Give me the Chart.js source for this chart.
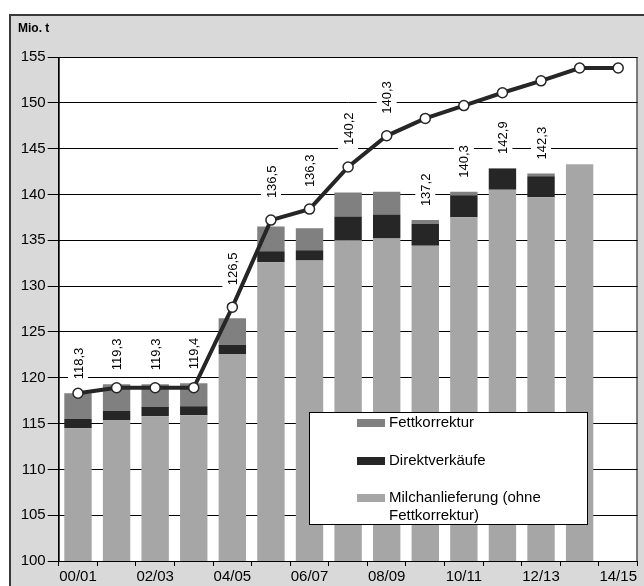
<!DOCTYPE html>
<html>
<head>
<meta charset="utf-8">
<script src="https://cdn.jsdelivr.net/npm/chart.js@4.4.1/dist/chart.umd.min.js"></script>
<style>
  body { margin: 0; background: #fff; }
</style>
</head>
<body>
<canvas id="milkChart" width="644" height="586"></canvas>
<script>
// Wirtschaftsjahre
let years = ['00/01','01/02','02/03','03/04','04/05','05/06','06/07','07/08','08/09','09/10','10/11','11/12','12/13','13/14','14/15']

// Mio. t
let milch   = [114.5, 115.4, 115.8, 115.9, 122.6, 132.6, 132.8, 135.0, 135.2, 134.4, 137.5, 140.5, 139.7, 143.3, null]
let direkt  = [1.0, 1.0, 1.0, 1.0, 1.0, 1.2, 1.1, 2.6, 2.6, 2.4, 2.4, 2.3, 2.3, 0, null]
let fett    = [2.8, 2.9, 2.5, 2.5, 2.9, 2.7, 2.4, 2.6, 2.5, 0.4, 0.4, 0.1, 0.3, 0, null]
let quote   = [118.3, 118.9, 118.9, 118.9, 127.7, 137.2, 138.4, 143.0, 146.4, 148.3, 149.7, 151.1, 152.4, 153.8, 153.8]
let summen  = [118.3, 119.3, 119.3, 119.4, 126.5, 136.5, 136.3, 140.2, 140.3, 137.2, 140.3, 142.9, 142.3, null, null]

let yTicks = { min: 100, max: 155, step: 5 }

const FONT = "'Liberation Sans', Arial, sans-serif"

// grey frame + white plot area behind everything
const framePlugin = {
    id: 'frame',
    beforeDraw(chart) {
        const ctx = chart.ctx
        const a = chart.chartArea
        ctx.save()
        ctx.fillStyle = '#d9d9d9'
        ctx.fillRect(10, 15, 650, 600)
        ctx.strokeStyle = '#3a3a3a'
        ctx.lineWidth = 2
        ctx.strokeRect(10, 15, 650, 600)
        ctx.fillStyle = '#fff'
        ctx.fillRect(a.left, a.top, a.right - a.left, a.bottom - a.top)
        ctx.fillStyle = '#000'
        ctx.font = 'bold 12px ' + FONT
        ctx.textBaseline = 'middle'
        ctx.fillText('Mio. t', 18, 29)
        ctx.restore()
    },
    afterDraw(chart) {
        const ctx = chart.ctx
        const a = chart.chartArea
        ctx.save()
        ctx.strokeStyle = '#000'
        ctx.lineWidth = 1
        ctx.strokeRect(a.left + 0.5, a.top + 0.5, a.right - a.left - 1, a.bottom - a.top)
        ctx.restore()
    }
}

// rotated sum labels above the bars (drawn over the grid, under the line)
const sumLabels = {
    id: 'sumLabels',
    beforeDatasetsDraw(chart) {
        const ctx = chart.ctx
        const x = chart.scales.x
        const y = chart.scales.y
        ctx.save()
        ctx.font = '13px ' + FONT
        summen.forEach((v, i) => {
            if (v == null) return
            let px = x.getPixelForValue(i)
            let anchor = y.getPixelForValue(v) - 14
            let diff = quote[i] - v
            if (diff > 0.3 && diff < 7) anchor = y.getPixelForValue(quote[i]) - 22
            let txt = v.toFixed(1).replace('.', ',')
            let w = ctx.measureText(txt).width
            ctx.fillStyle = '#fff'
            ctx.fillRect(px - 10, anchor - w - 4, 20, w + 8)
            ctx.translate(px, anchor)
            ctx.rotate(-Math.PI / 2)
            ctx.fillStyle = '#000'
            ctx.textAlign = 'left'
            ctx.textBaseline = 'middle'
            ctx.fillText(txt, 0, 1)
            ctx.setTransform(1, 0, 0, 1, 0, 0)
        })
        ctx.restore()
    }
}

// legend box inside the plot
const legendBox = {
    id: 'legendBox',
    afterDraw(chart) {
        const ctx = chart.ctx
        ctx.save()
        ctx.fillStyle = '#fff'
        ctx.fillRect(309, 412, 278, 112)
        ctx.strokeStyle = '#000'
        ctx.lineWidth = 1
        ctx.strokeRect(309.5, 412.5, 278, 112)
        ctx.font = '15px ' + FONT
        ctx.textBaseline = 'middle'
        const items = [chart.data.datasets[2], chart.data.datasets[1], chart.data.datasets[0]]
        const rows = [423, 461, 498]
        items.forEach((ds, k) => {
            ctx.fillStyle = ds.backgroundColor
            ctx.fillRect(357, rows[k] - 4, 28, 8)
            ctx.fillStyle = '#000'
            let lines = Array.isArray(ds.label) ? ds.label : [ds.label]
            lines.forEach((t, j) => ctx.fillText(t, 389, rows[k] + j * 18))
        })
        ctx.restore()
    }
}

let ctx = document.getElementById('milkChart').getContext('2d')
let milkChart = new Chart(ctx, {
    type: 'bar',
    data: {
        labels: years,
        datasets: [
            { label: ['Milchanlieferung (ohne', 'Fettkorrektur)'], data: milch, backgroundColor: '#a6a6a6', order: 1 },
            { label: 'Direktverkäufe', data: direkt, backgroundColor: '#262626', order: 1 },
            { label: 'Fettkorrektur', data: fett, backgroundColor: '#808080', order: 1 },
            {
                type: 'line',
                label: 'Quote',
                data: quote,
                stack: 'quote',
                order: 0,
                borderColor: '#262626',
                borderWidth: 4,
                pointRadius: 5,
                pointBackgroundColor: '#fff',
                pointBorderColor: '#262626',
                pointBorderWidth: 1.5,
                tension: 0
            }
        ]
    },
    options: {
        responsive: false,
        animation: false,
        layout: { padding: { left: 10, top: 57, right: 5, bottom: 0 } },
        datasets: { bar: { categoryPercentage: 1, barPercentage: 0.71 } },
        plugins: { legend: { display: false }, tooltip: { enabled: false } },
        scales: {
            x: {
                stacked: true,
                afterFit: (s) => { s.height = 25 },
                grid: { offset: true, drawOnChartArea: false, color: '#000', tickLength: 5 },
                border: { color: '#000' },
                ticks: {
                    color: '#000',
                    font: { family: FONT, size: 15 },
                    padding: 2,
                    maxRotation: 0,
                    autoSkip: false,
                    callback: (v, i) => i % 2 == 0 ? years[i] : ''
                }
            },
            y: {
                stacked: true,
                min: yTicks.min,
                max: yTicks.max,
                afterFit: (s) => { s.width = 48.7 },
                grid: { color: '#000', tickLength: 11 },
                border: { color: '#000' },
                ticks: {
                    stepSize: yTicks.step,
                    color: '#000',
                    padding: 2,
                    font: { family: FONT, size: 15 }
                }
            }
        }
    },
    plugins: [framePlugin, sumLabels, legendBox]
})
</script>
</body>
</html>
